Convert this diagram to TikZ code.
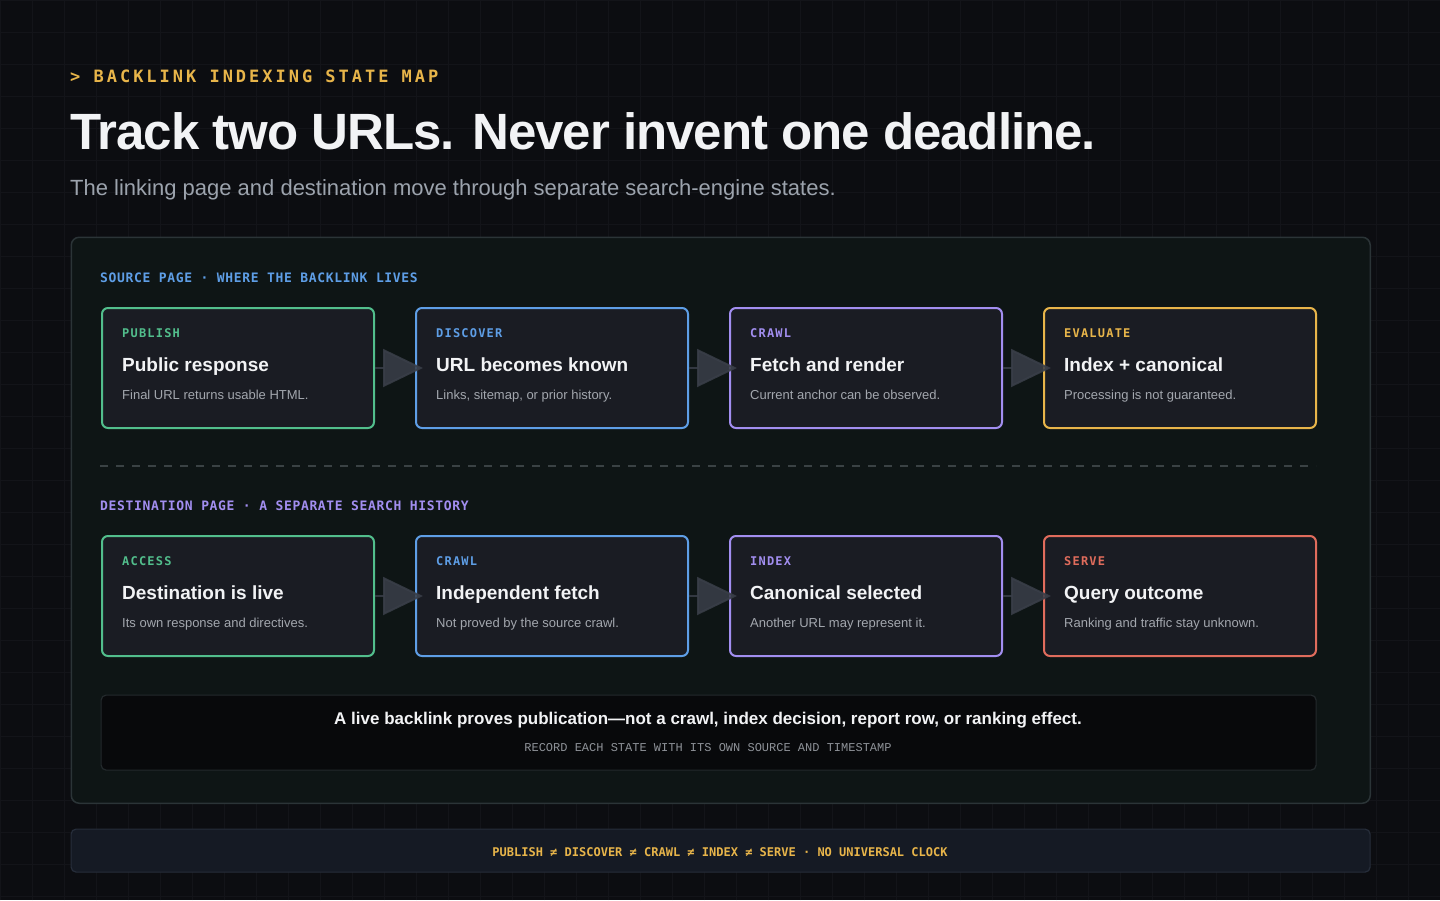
\documentclass[tikz,border=0pt]{standalone}
\usepackage{fontspec}
\setmainfont{Liberation Sans}
\newfontfamily\labelmono{DejaVu Sans Mono}
\newfontfamily\notemono{Liberation Mono}
\usetikzlibrary{positioning,calc,arrows.meta}

\definecolor{bgdark}{HTML}{0C0D11}
\definecolor{gridline}{HTML}{131419}
\definecolor{panelfill}{HTML}{0E1515}
\definecolor{panelline}{HTML}{2B3437}
\definecolor{cardfill}{HTML}{1A1C23}
\definecolor{okgreen}{HTML}{52BE8C}
\definecolor{srcblue}{HTML}{5E9EE6}
\definecolor{crawlpurple}{HTML}{A28EF0}
\definecolor{evalyellow}{HTML}{E8B54A}
\definecolor{servered}{HTML}{E06C5C}
\definecolor{headwhite}{HTML}{F2F3F5}
\definecolor{descgray}{HTML}{A3A7AE}
\definecolor{subgray}{HTML}{9CA3AD}
\definecolor{arrowgray}{HTML}{3A3F49}
\definecolor{dashgray}{HTML}{3A4244}
\definecolor{notefill}{HTML}{08090B}
\definecolor{noteline}{HTML}{23292C}
\definecolor{recordgray}{HTML}{8E9298}
\definecolor{barfill}{HTML}{151A24}
\definecolor{barline}{HTML}{262D3A}

\begin{document}
\begin{tikzpicture}[x=1pt,y=-1pt,
    card/.style={draw=#1, line width=2pt, rounded corners=6pt, fill=cardfill,
        minimum width=272pt, minimum height=120pt, inner sep=0pt, anchor=north west},
    tag/.style={anchor=base west, inner sep=0pt, text=#1,
        font=\labelmono\fontsize{12}{14}\selectfont\bfseries\addfontfeatures{LetterSpace=10}},
    cardtitle/.style={anchor=base west, inner sep=0pt, text=headwhite,
        font=\fontsize{19}{22}\selectfont\bfseries},
    carddesc/.style={anchor=base west, inner sep=0pt, text=descgray,
        font=\fontsize{13}{15}\selectfont},
    sectionlabel/.style={anchor=base west, inner sep=0pt, text=#1,
        font=\labelmono\fontsize{13}{15}\selectfont\bfseries\addfontfeatures{LetterSpace=5}},
    flowarrow/.style={draw=arrowgray, line width=2pt, opacity=0.85, shorten >=-8pt,
        -{Triangle[length=40pt,width=38pt]}}
]
    \useasboundingbox (0,0) rectangle (1440,900);
    \fill[bgdark] (0,0) rectangle (1440,900);
    \draw[step=32pt,gridline,line width=0.8pt] (0,0) grid (1440,900);

    % header
    \node[anchor=base west, inner sep=0pt, text=evalyellow,
        font=\labelmono\fontsize{17}{20}\selectfont\bfseries\addfontfeatures{LetterSpace=17.5}]
        (kicker) at (70,82) {> BACKLINK INDEXING STATE MAP};
    \node[anchor=base west, inner sep=0pt, text=headwhite,
        font=\fontsize{51}{60}\selectfont\bfseries\addfontfeatures{LetterSpace=-2}]
        (headline) at (70,149) {Track two URLs. Never invent one deadline.};
    \node[anchor=base west, inner sep=0pt, text=subgray, font=\fontsize{22}{26}\selectfont]
        (subline) at (70,195) {The linking page and destination move through separate search-engine states.};

    % main panel
    \node[draw=panelline, line width=1.5pt, fill=panelfill, rounded corners=8pt,
        minimum width=1299pt, minimum height=566pt, anchor=north west] (panel) at (70.5,236.5) {};

    \node[sectionlabel=srcblue] (src-head) at (100,282) {SOURCE PAGE · WHERE THE BACKLINK LIVES};
    \node[sectionlabel=crawlpurple] (dst-head) at (100,510) {DESTINATION PAGE · A SEPARATE SEARCH HISTORY};

    % state cards
    \foreach \n/\x/\y/\c/\tg/\ttl/\dsc in {
        pub/101/307/okgreen/PUBLISH/Public response/Final URL returns usable HTML.,
        dis/415/307/srcblue/DISCOVER/URL becomes known/{Links, sitemap, or prior history.},
        crw/729/307/crawlpurple/CRAWL/Fetch and render/Current anchor can be observed.,
        eva/1043/307/evalyellow/EVALUATE/Index + canonical/Processing is not guaranteed.,
        acc/101/535/okgreen/ACCESS/Destination is live/Its own response and directives.,
        ind/415/535/srcblue/CRAWL/Independent fetch/Not proved by the source crawl.,
        can/729/535/crawlpurple/INDEX/Canonical selected/Another URL may represent it.,
        srv/1043/535/servered/SERVE/Query outcome/Ranking and traffic stay unknown.} {
        \node[card=\c] (\n) at (\x,\y) {};
        \node[tag=\c] (\n-tag) at ($(\n.north west)+(21,30)$) {\tg};
        \node[cardtitle] (\n-title) at ($(\n.north west)+(21,64)$) {\ttl};
        \node[carddesc] (\n-desc) at ($(\n.north west)+(21,92)$) {\dsc};
    }

    \foreach \a/\b in {pub/dis, dis/crw, crw/eva, acc/ind, ind/can, can/srv}
        \draw[flowarrow] (\a) -- (\b);

    % separator
    \coordinate (sep-l) at (100,466);
    \coordinate (sep-r) at (1316,466);
    \draw[dashgray, line width=1.2pt, dash pattern=on 8pt off 8pt] (sep-l) -- (sep-r);

    % note
    \node[draw=noteline, line width=1.2pt, fill=notefill, rounded corners=5pt,
        minimum width=1215pt, minimum height=75pt, anchor=north west] (note) at (100.5,694.5) {};
    \node[anchor=base, inner sep=0pt, text=headwhite, font=\fontsize{17}{20}\selectfont\bfseries]
        (note-main) at (708,724) {A live backlink proves publication—not a crawl, index decision, report row, or ranking effect.};
    \node[anchor=base, inner sep=0pt, text=recordgray, font=\notemono\fontsize{12}{14}\selectfont]
        (note-sub) at (708,751) {RECORD EACH STATE WITH ITS OWN SOURCE AND TIMESTAMP};

    % footer bar
    \node[draw=barline, line width=1.2pt, fill=barfill, rounded corners=5pt,
        minimum width=1299pt, minimum height=43pt, anchor=north west] (bar) at (70.5,828.5) {};
    \node[anchor=base, inner sep=0pt, text=evalyellow, font=\labelmono\fontsize{12}{14}\selectfont\bfseries]
        (bar-text) at (720,856) {PUBLISH ≠ DISCOVER ≠ CRAWL ≠ INDEX ≠ SERVE · NO UNIVERSAL CLOCK};
\end{tikzpicture}
\end{document}
